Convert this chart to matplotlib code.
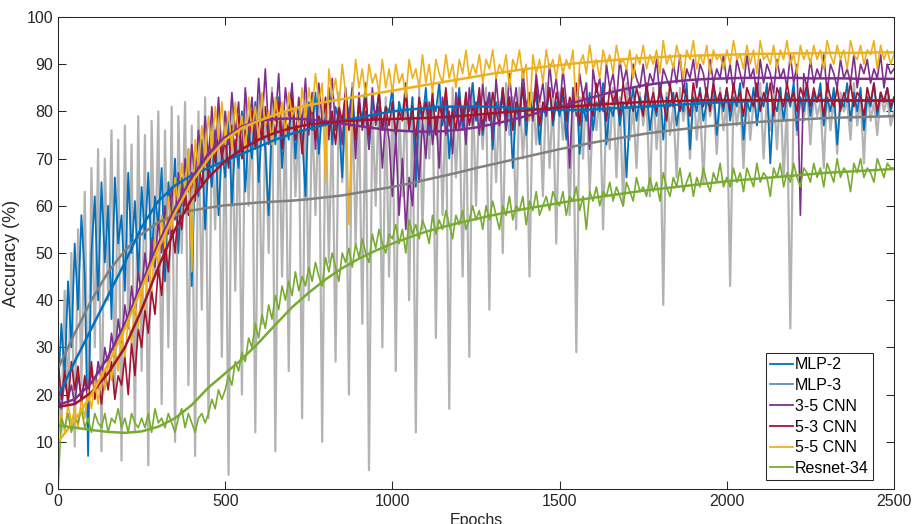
import numpy as np
import matplotlib
matplotlib.use("Agg")
from matplotlib import pyplot as plt
from matplotlib.lines import Line2D

plt.rcParams['font.family'] = ['Liberation Sans', 'DejaVu Sans']

# raw accuracy, sampled every 10 epochs
raw_epochs = np.arange(0, 2501, 10)

mlp2_raw = [
    20, 35, 24, 44, 30, 52, 38, 58, 45, 7, 50, 62, 40, 65, 48, 60, 36, 66, 52, 58, 42, 67, 50, 61, 45,
    64, 53, 67, 48, 62, 56, 68, 44, 65, 58, 70, 50, 66, 60, 72, 43, 68, 62, 74, 55, 70, 64, 76, 58, 72,
    66, 78, 60, 74, 68, 80, 63, 76, 70, 82, 65, 77, 72, 58, 79, 73, 83, 68, 78, 74, 84, 70, 80, 75, 62,
    82, 76, 84, 71, 80, 77, 85, 73, 81, 78, 66, 83, 79, 85, 74, 81, 78, 86, 72, 82, 79, 84, 76, 81, 80,
    85, 74, 82, 79, 86, 76, 83, 64, 81, 78, 85, 75, 82, 80, 86, 77, 83, 70, 81, 79, 85, 76, 82, 80, 86,
    78, 83, 75, 81, 84, 72, 82, 79, 85, 76, 83, 68, 81, 78, 86, 75, 82, 80, 84, 73, 81, 79, 85, 77, 82,
    79, 84, 74, 82, 80, 85, 71, 81, 78, 84, 76, 82, 80, 86, 73, 81, 79, 84, 77, 82, 66, 80, 85, 78, 83,
    80, 85, 76, 82, 79, 86, 74, 83, 81, 84, 77, 82, 80, 86, 72, 83, 80, 85, 78, 82, 81, 86, 75, 83, 80,
    85, 78, 83, 81, 86, 74, 82, 80, 85, 77, 83, 81, 86, 69, 82, 80, 85, 78, 84, 81, 86, 76, 83, 80, 85,
    79, 84, 82, 86, 77, 83, 80, 85, 73, 82, 81, 86, 78, 84, 80, 85, 76, 83, 81, 86, 79, 84, 82, 85, 80,
    83]

mlp3_raw = [
    25, 12, 42, 18, 50, 9, 55, 22, 63, 14, 68, 30, 72, 8, 70, 40, 76, 20, 74, 6, 77, 35, 73, 12, 79,
    25, 75, 5, 78, 45, 80, 18, 76, 30, 81, 10, 79, 50, 82, 22, 77, 7, 80, 38, 83, 15, 78, 55, 81, 28,
    80, 3, 82, 42, 79, 20, 84, 60, 81, 12, 83, 35, 78, 50, 85, 8, 82, 45, 80, 25, 84, 62, 79, 15, 83,
    40, 81, 58, 85, 10, 82, 48, 80, 27, 84, 65, 83, 20, 86, 52, 81, 35, 84, 4, 82, 60, 85, 30, 83, 45,
    84, 25, 82, 62, 86, 40, 83, 12, 85, 55, 81, 70, 84, 32, 86, 58, 83, 17, 85, 66, 82, 45, 84, 28, 86,
    60, 83, 72, 85, 38, 84, 65, 82, 50, 86, 75, 83, 55, 85, 70, 81, 45, 84, 73, 82, 62, 86, 68, 83, 52,
    84, 74, 82, 58, 85, 29, 83, 70, 86, 63, 81, 76, 84, 55, 82, 72, 85, 66, 83, 60, 86, 74, 81, 68, 84,
    77, 83, 62, 85, 72, 82, 39, 84, 75, 81, 66, 85, 78, 83, 70, 86, 74, 82, 65, 84, 79, 83, 71, 85, 76,
    82, 43, 84, 77, 83, 68, 85, 74, 82, 79, 86, 70, 83, 76, 84, 72, 85, 66, 82, 34, 84, 75, 83, 78, 85,
    73, 84, 79, 82, 68, 85, 76, 83, 71, 84, 80, 82, 74, 86, 77, 83, 69, 85, 78, 82, 75, 84, 80, 83, 77,
    80]

cnn35_raw = [
    20, 17, 23, 19, 22, 18, 24, 20, 23, 19, 25, 21, 27, 23, 30, 26, 33, 28, 36, 31, 39, 34, 43, 37, 46,
    41, 50, 44, 53, 47, 57, 50, 60, 54, 64, 57, 67, 60, 70, 63, 73, 66, 76, 68, 79, 70, 81, 72, 83, 71,
    80, 73, 84, 75, 82, 70, 85, 76, 83, 74, 87, 77, 89, 75, 84, 78, 88, 73, 85, 79, 86, 74, 83, 77, 87,
    75, 84, 72, 86, 78, 82, 74, 87, 76, 81, 73, 85, 78, 83, 70, 84, 76, 80, 72, 85, 77, 81, 68, 79, 74,
    62, 75, 58, 70, 55, 66, 60, 74, 65, 78, 70, 82, 73, 79, 68, 83, 75, 80, 71, 84, 76, 81, 73, 85, 77,
    82, 75, 86, 78, 84, 74, 87, 79, 83, 76, 88, 80, 85, 77, 89, 81, 84, 78, 88, 82, 86, 79, 90, 83, 87,
    80, 89, 82, 68, 85, 79, 88, 83, 86, 72, 89, 84, 87, 80, 90, 85, 88, 82, 91, 86, 89, 83, 90, 87, 85,
    90, 84, 88, 86, 91, 83, 89, 87, 85, 90, 86, 92, 84, 89, 87, 91, 85, 90, 88, 83, 91, 86, 89, 87, 92,
    86, 90, 84, 91, 88, 85, 92, 87, 89, 83, 91, 86, 90, 88, 84, 91, 87, 89, 85, 92, 86, 90, 58, 88, 85,
    91, 86, 89, 87, 92, 84, 90, 88, 85, 91, 87, 89, 86, 92, 85, 90, 88, 91, 86, 89, 87, 92, 85, 90, 88,
    89]

cnn53_raw = [
    28, 19, 25, 18, 27, 21, 26, 18, 24, 20, 27, 19, 23, 18, 25, 21, 27, 19, 24, 22, 28, 20, 31, 24, 34,
    30, 38, 33, 42, 37, 47, 41, 52, 46, 56, 50, 60, 55, 63, 58, 67, 61, 70, 64, 72, 66, 74, 69, 76, 70,
    74, 68, 77, 71, 79, 70, 76, 73, 80, 72, 78, 74, 81, 73, 79, 75, 82, 72, 78, 76, 83, 74, 79, 71, 80,
    76, 82, 74, 79, 77, 83, 75, 80, 73, 81, 78, 84, 76, 80, 74, 82, 77, 83, 75, 79, 78, 84, 76, 81, 77,
    82, 75, 80, 78, 84, 76, 81, 74, 83, 79, 82, 77, 84, 75, 81, 79, 85, 77, 80, 76, 83, 78, 84, 77, 81,
    79, 85, 76, 82, 78, 84, 80, 77, 85, 79, 83, 76, 82, 80, 85, 78, 83, 79, 86, 77, 82, 80, 85, 78, 84,
    80, 85, 78, 83, 81, 86, 77, 84, 80, 82, 79, 86, 81, 83, 78, 85, 82, 84, 79, 86, 81, 83, 80, 85, 82,
    79, 86, 81, 84, 80, 85, 82, 78, 86, 81, 84, 80, 85, 83, 79, 86, 82, 84, 81, 85, 80, 86, 82, 84, 81,
    85, 80, 86, 82, 84, 79, 85, 83, 81, 86, 80, 84, 82, 86, 79, 85, 83, 81, 86, 82, 84, 80, 85, 83, 86,
    81, 85, 82, 84, 79, 86, 83, 81, 85, 80, 84, 82, 86, 81, 84, 83, 79, 85, 82, 86, 80, 84, 82, 85, 81,
    83]

cnn55_raw = [
    11, 16, 12, 18, 14, 17, 13, 19, 15, 21, 17, 23, 18, 25, 21, 27, 23, 30, 25, 33, 28, 36, 31, 39, 34,
    43, 38, 48, 42, 53, 47, 58, 51, 62, 55, 66, 60, 69, 63, 72, 46, 74, 68, 77, 70, 79, 72, 81, 74, 82,
    73, 80, 72, 82, 75, 79, 71, 83, 76, 81, 74, 84, 77, 80, 73, 83, 78, 82, 75, 84, 79, 81, 76, 85, 78,
    85, 80, 88, 82, 86, 65, 89, 83, 87, 81, 90, 84, 56, 82, 91, 85, 89, 83, 90, 86, 88, 84, 91, 85, 89,
    84, 90, 86, 88, 83, 91, 87, 89, 85, 92, 86, 90, 84, 91, 88, 86, 92, 87, 90, 85, 91, 88, 93, 87, 90,
    88, 92, 86, 91, 89, 93, 87, 90, 88, 92, 85, 91, 89, 93, 87, 90, 78, 92, 88, 91, 86, 93, 89, 91, 87,
    92, 88, 91, 89, 93, 80, 90, 92, 88, 94, 89, 91, 87, 93, 90, 92, 88, 94, 90, 91, 89, 93, 87, 92, 90,
    94, 89, 92, 90, 93, 88, 95, 90, 92, 89, 94, 91, 87, 93, 91, 95, 89, 92, 90, 94, 88, 93, 91, 92, 89,
    93, 90, 95, 91, 92, 89, 94, 90, 93, 88, 95, 91, 92, 90, 94, 89, 93, 91, 95, 90, 92, 88, 94, 91, 93,
    90, 94, 91, 93, 89, 95, 92, 90, 94, 91, 93, 89, 95, 92, 91, 94, 90, 93, 92, 95, 89, 94, 91, 93, 90,
    92]

resnet_raw = [
    0, 15, 13, 16, 12, 15, 14, 17, 13, 15, 12, 16, 14, 13, 16, 12, 15, 14, 17, 13, 15, 12, 16, 14, 13,
    15, 13, 16, 12, 17, 14, 15, 13, 16, 14, 12, 15, 17, 13, 16, 14, 12, 15, 16, 14, 16, 19, 17, 21, 19,
    21, 24, 22, 27, 25, 29, 27, 32, 30, 35, 32, 37, 34, 39, 36, 41, 38, 43, 40, 44, 41, 46, 42, 45, 43,
    47, 44, 48, 45, 43, 49, 46, 50, 47, 44, 50, 48, 51, 47, 52, 49, 53, 50, 48, 54, 51, 55, 52, 50, 54,
    53, 56, 52, 55, 50, 57, 54, 56, 53, 57, 55, 52, 58, 54, 57, 55, 59, 56, 53, 58, 56, 59, 55, 57, 60,
    57, 59, 55, 60, 57, 61, 58, 55, 60, 58, 62, 57, 60, 59, 62, 56, 61, 59, 63, 58, 60, 62, 59, 63, 61,
    60, 63, 58, 62, 61, 64, 59, 62, 55, 63, 61, 64, 60, 63, 62, 65, 61, 64, 62, 60, 65, 63, 61, 66, 63,
    64, 62, 66, 63, 65, 61, 67, 64, 62, 66, 64, 68, 63, 65, 67, 62, 66, 64, 68, 65, 63, 67, 65, 69, 64,
    66, 64, 68, 65, 67, 63, 68, 66, 64, 69, 65, 67, 66, 62, 68, 66, 69, 64, 67, 65, 69, 66, 64, 68, 67,
    65, 69, 66, 68, 64, 69, 67, 65, 70, 66, 68, 67, 63, 69, 67, 70, 66, 68, 67, 65, 70, 68, 66, 69, 68,
    68]

# fitted trend curves, every 50 epochs
fit_epochs = np.arange(0, 2501, 50)

mlp2_fit = [19.5, 27, 34, 41, 48, 55.5, 61, 64.3, 66.5, 68, 69.5, 71, 72.5, 74, 75.3, 76.3, 77.2,
            78, 78.7, 79.4, 80, 80.4, 80.7, 81, 81, 81, 81, 80.8, 80.6, 80.4, 80.3, 80.3, 80.4,
            80.6, 80.8, 81, 81.2, 81.4, 81.6, 81.8, 82, 82.1, 82.2, 82.3, 82.4, 82.4, 82.4, 82.4,
            82.3, 82.3, 82.3]
mlp3_fit = [25.5, 33, 40, 46, 50.5, 54, 56.5, 58, 59, 59.6, 60.1, 60.4, 60.7, 60.9, 61.1, 61.4,
            61.8, 62.2, 62.8, 63.4, 64, 64.7, 65.5, 66.3, 67.1, 68, 68.8, 69.6, 70.4, 71.2, 72,
            72.7, 73.4, 74, 74.6, 75.2, 75.7, 76.1, 76.5, 76.9, 77.2, 77.5, 77.8, 78, 78.2, 78.4,
            78.6, 78.7, 78.8, 78.9, 79]
cnn35_fit = [17.8, 19, 22.5, 28, 35, 43.5, 52, 59.5, 66, 71, 74.5, 76.8, 78, 78.4, 78.5, 78.3,
             77.9, 77.4, 76.9, 76.4, 76, 75.8, 75.7, 75.8, 76.1, 76.6, 77.3, 78.1, 79, 80, 81, 82,
             83, 84, 84.8, 85.5, 86, 86.4, 86.7, 86.9, 87, 87.1, 87.1, 87.1, 87.1, 87, 87, 87,
             86.9, 86.9, 86.9]
cnn53_fit = [17.4, 18, 20.5, 24.5, 30, 38, 47, 55, 61.5, 66, 69.5, 72, 74, 75.5, 76.5, 77.2,
             77.6, 77.9, 78.1, 78.3, 78.4, 78.5, 78.6, 78.8, 79, 79.3, 79.6, 79.9, 80.2, 80.5,
             80.8, 81.1, 81.4, 81.6, 81.8, 82, 82.1, 82.2, 82.3, 82.4, 82.4, 82.4, 82.4, 82.4,
             82.4, 82.3, 82.3, 82.3, 82.3, 82.3, 82.3]
cnn55_fit = [10, 14.5, 20, 26.5, 34, 42.5, 51, 58.5, 65, 70, 74, 76.5, 78, 79.3, 80.5, 81.3, 82,
             82.6, 83.2, 83.8, 84.4, 85, 85.6, 86.2, 86.8, 87.4, 88, 88.5, 89, 89.4, 89.8, 90.2,
             90.5, 90.8, 91.1, 91.3, 91.5, 91.7, 91.8, 91.9, 92, 92.1, 92.2, 92.2, 92.3, 92.3,
             92.4, 92.4, 92.4, 92.5, 92.5]
resnet_fit = [13.5, 13, 12.5, 12.1, 11.9, 12.2, 13.2, 15, 17.8, 21.5, 24.5, 27.5, 31, 34.8, 38.5,
              41.6, 44.4, 46.8, 48.8, 50.5, 52, 53.3, 54.5, 55.5, 56.4, 57.2, 58, 58.7, 59.4, 60,
              60.6, 61.2, 61.7, 62.2, 62.7, 63.2, 63.6, 64, 64.4, 64.8, 65.2, 65.5, 65.8, 66.1,
              66.4, 66.7, 67, 67.2, 67.4, 67.6, 67.8]

labels = ['MLP-2', 'MLP-3', '3-5 CNN', '5-3 CNN', '5-5 CNN', 'Resnet-34']
legend_colors = ['#0072BD', '#5a8cbf', '#7E2F8E', '#A2142F', '#EDB120', '#77AC30']


def main():
    fig = plt.figure(figsize=(9.13, 5.24), dpi=100)
    ax = fig.add_axes([58 / 913, 35 / 524, 836 / 913, 472 / 524])

    # noisy curves, drawn back to front
    ax.plot(raw_epochs, mlp3_raw, color='#b3b3b3', lw=1.6)
    ax.plot(raw_epochs, mlp2_raw, color='#0072BD', lw=1.3)
    ax.plot(raw_epochs, cnn35_raw, color='#7E2F8E', lw=1.2)
    ax.plot(raw_epochs, cnn53_raw, color='#A2142F', lw=1.2)
    ax.plot(raw_epochs, cnn55_raw, color='#EDB120', lw=1.2)
    ax.plot(raw_epochs, resnet_raw, color='#77AC30', lw=1.2)

    # trend lines
    ax.plot(fit_epochs, mlp3_fit, color='#808080', lw=1.8)
    ax.plot(fit_epochs, mlp2_fit, color='#0072BD', lw=1.8)
    ax.plot(fit_epochs, cnn35_fit, color='#7E2F8E', lw=1.8)
    ax.plot(fit_epochs, cnn53_fit, color='#A2142F', lw=1.8)
    ax.plot(fit_epochs, cnn55_fit, color='#EDB120', lw=1.8)
    ax.plot(fit_epochs, resnet_fit, color='#77AC30', lw=1.8)

    ax.set_xlim(0, 2500)
    ax.set_ylim(0, 100)
    ax.set_xticks(np.arange(0, 2501, 500))
    ax.set_yticks(np.arange(0, 101, 10))
    ax.tick_params(direction='in', top=True, right=True, length=5.5, width=0.75,
                   labelsize=11.5, colors='#262626')
    for s in ax.spines.values():
        s.set_color('#262626')
        s.set_linewidth(0.75)

    ax.set_xlabel('Epochs', fontsize=11.5, color='#262626', labelpad=3)
    ax.set_ylabel('Accuracy (%)', fontsize=13, color='#262626', labelpad=5)

    handles = [Line2D([0], [0], color=c, lw=1.3) for c in legend_colors]
    leg = ax.legend(handles, labels, loc='lower right', bbox_to_anchor=(0.975, 0.019),
                    borderaxespad=0, fontsize=11.5, handlelength=1.45, handletextpad=0.15,
                    labelspacing=0.36, fancybox=False, framealpha=1, borderpad=0.25)
    leg.get_frame().set_edgecolor('#262626')
    leg.get_frame().set_linewidth(0.75)

    fig.savefig('out.png', dpi=100)


if __name__ == "__main__":
    main()
